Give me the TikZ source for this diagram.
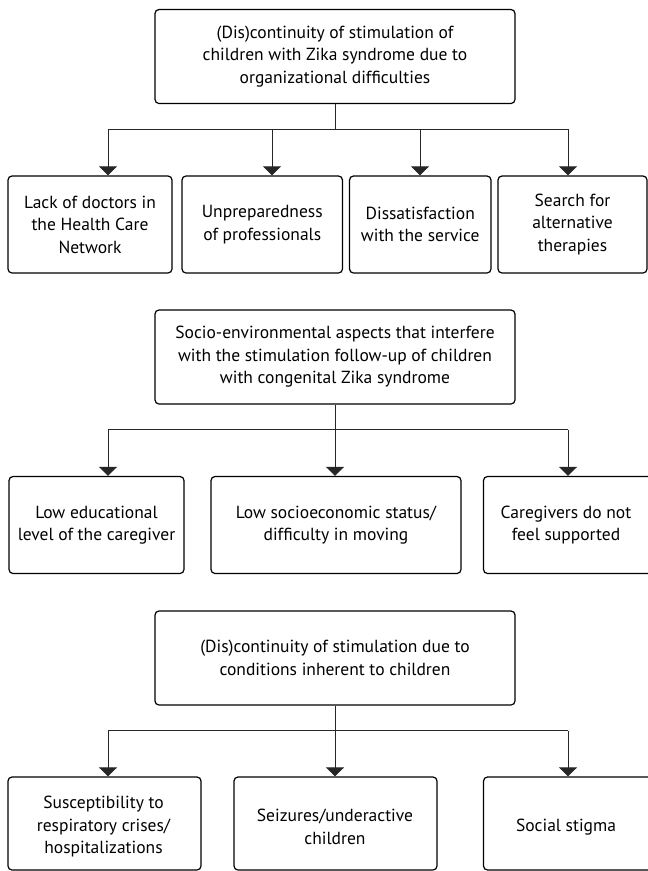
\documentclass[tikz,border=0pt]{standalone}
\usepackage{fontspec}
\setmainfont{PT Sans}
\usetikzlibrary{arrows.meta}
\tikzset{
  box/.style={draw=black, line width=1.2pt, rounded corners=4pt, inner sep=0pt, align=center, fill=white},
  txt/.style={inner sep=0pt, align=center},
  conn/.style={draw=black!85, line width=1pt},
  arr/.style={conn, -{Triangle[width=18pt,length=9pt]}},
}
\begin{document}
\begin{tikzpicture}[x=1pt,y=-1pt, font=\fontsize{17.5}{22.5}\selectfont]
\useasboundingbox (0,0) rectangle (648,871);
\clip (0,0) rectangle (648,871);
% ---------- Panel 1 ----------
\node[box, minimum width=360pt, minimum height=94pt] (T1) at (335,56.5)
  {(Dis)continuity of stimulation of\\children with Zika syndrome due to\\organizational difficulties};
\node[box, minimum width=164pt, minimum height=97pt] (B11) at (90,224.5)
  {Lack of doctors in\\the Health Care\\Network};
\node[box, minimum width=160.5pt, minimum height=97pt] (B12) at (262.25,224.5)
  {Unpreparedness\\of professionals};
\node[box, minimum width=141.5pt, minimum height=97pt] (B13) at (420.25,224.5)
  {Dissatisfaction\\with the service};
\node[box, minimum width=149pt, minimum height=97pt] (B14) at (572.5,224.5)
  {Search for\\alternative\\therapies};
\coordinate (j1) at (335,129);
\coordinate (a11) at (108,129);
\coordinate (a12) at (272,129);
\coordinate (a13) at (420,129);
\coordinate (a14) at (568,129);
\draw[conn] (T1.south) -- (j1);
\draw[conn] (a11) -- (a14);
\draw[arr] (a11) -- (a11 |- B11.north);
\draw[arr] (a12) -- (a12 |- B12.north);
\draw[arr] (a13) -- (a13 |- B13.north);
\draw[arr] (a14) -- (a14 |- B14.north);
% ---------- Panel 2 ----------
\node[box, minimum width=360pt, minimum height=94pt] (T2) at (335,357)
  {Socio-environmental aspects that interfere\\with the stimulation follow-up of children\\with congenital Zika syndrome};
\node[box, minimum width=175pt, minimum height=97pt] (B21) at (96.5,525)
  {Low educational\\level of the caregiver};
\node[box, minimum width=250pt, minimum height=97pt] (B22) at (336,525)
  {Low socioeconomic status/\\difficulty in moving};
\node[box, minimum width=216.5pt, minimum height=97pt] (B23) at (591.75,525) {};
\node[txt] (t23) at (566,525) {Caregivers do not\\feel supported};
\coordinate (j2) at (335,429.5);
\coordinate (a21) at (108,429.5);
\coordinate (a22) at (335,429.5);
\coordinate (a23) at (568,429.5);
\draw[conn] (T2.south) -- (j2);
\draw[conn] (a21) -- (a23);
\draw[arr] (a21) -- (a21 |- B21.north);
\draw[arr] (a22) -- (a22 |- B22.north);
\draw[arr] (a23) -- (a23 |- B23.north);
% ---------- Panel 3 ----------
\node[box, minimum width=360pt, minimum height=94pt] (T3) at (335,658)
  {(Dis)continuity of stimulation due to\\conditions inherent to children};
\node[box, minimum width=193pt, minimum height=93pt] (B31) at (104.5,823.5) {};
\node[box, minimum width=203pt, minimum height=93pt] (B32) at (335.5,823.5) {};
\node[box, minimum width=216.5pt, minimum height=93pt] (B33) at (591.75,823.5) {};
\node[txt] (t31) at (103.5,827) {Susceptibility to\\respiratory crises/\\hospitalizations};
\node[txt] (t32) at (335,827) {Seizures/underactive\\children};
\node[txt] (t33) at (566,827) {Social stigma};
\coordinate (j3) at (335,730.5);
\coordinate (a31) at (108,730.5);
\coordinate (a32) at (335,730.5);
\coordinate (a33) at (568,730.5);
\draw[conn] (T3.south) -- (j3);
\draw[conn] (a31) -- (a33);
\draw[arr] (a31) -- (a31 |- B31.north);
\draw[arr] (a32) -- (a32 |- B32.north);
\draw[arr] (a33) -- (a33 |- B33.north);
\end{tikzpicture}
\end{document}
